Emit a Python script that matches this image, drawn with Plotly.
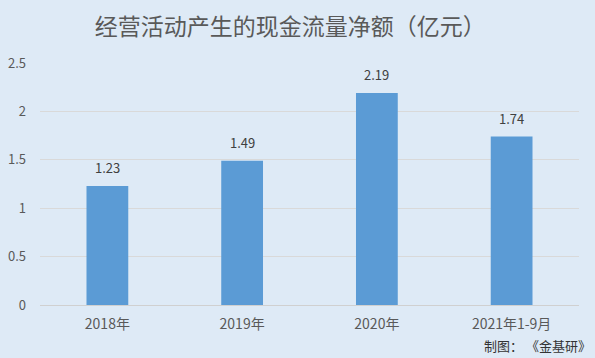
import plotly.graph_objects as go

categories = ["2018年", "2019年", "2020年", "2021年1-9月"]
values = [1.23, 1.49, 2.19, 1.74]
value_labels = ["1.23", "1.49", "2.19", "1.74"]
y_ticks = [0, 0.5, 1, 1.5, 2, 2.5]
y_tick_text = ["0", "0.5", "1", "1.5", "2", "2.5"]

FONT = "Noto Sans CJK SC, Microsoft YaHei, sans-serif"
BG = "#DEEAF6"

fig = go.Figure()
fig.add_trace(go.Bar(
    x=categories, y=values,
    marker=dict(color="#5B9BD5", line=dict(width=0)),
    width=0.31,
    hoverinfo="x+y",
))

annotations = [
    dict(x=c, y=v, text=t, xref="x", yref="y", showarrow=False,
         yanchor="bottom", yshift=7,
         font=dict(size=13, color="#404040", family=FONT))
    for c, v, t in zip(categories, values, value_labels)
]
annotations.append(dict(text="制图： 《金基研》", xref="paper", yref="paper",
                        x=1.026, y=-0.169, xanchor="right", yanchor="middle",
                        showarrow=False,
                        font=dict(size=13, color="#333333", family=FONT)))

fig.update_layout(
    width=595, height=358,
    paper_bgcolor=BG, plot_bgcolor=BG,
    margin=dict(l=40, r=16, t=63, b=53, autoexpand=False),
    showlegend=False,
    title=dict(text="经营活动产生的现金流量净额（亿元）", x=0.488, xanchor="center",
               y=1 - 27 / 358, yanchor="middle", automargin=False,
               font=dict(size=23, color="#595959", family=FONT)),
    xaxis=dict(showgrid=False, showline=True, linecolor="#D0D0D0", linewidth=1,
               tickfont=dict(size=14, color="#595959", family=FONT), ticks="",
               ticklabelstandoff=6, automargin=False),
    yaxis=dict(range=[0, 2.5], tickvals=y_ticks, ticktext=y_tick_text,
               showgrid=True, gridcolor="#D9D9D9", gridwidth=1, zeroline=False,
               tickfont=dict(size=13, color="#595959", family=FONT), ticks="",
               ticklabelstandoff=13, automargin=False),
    annotations=annotations,
)

fig.write_html("out.html", config={"displayModeBar": False},
               post_script="document.body.style.margin='0';document.body.style.overflow='hidden';")
